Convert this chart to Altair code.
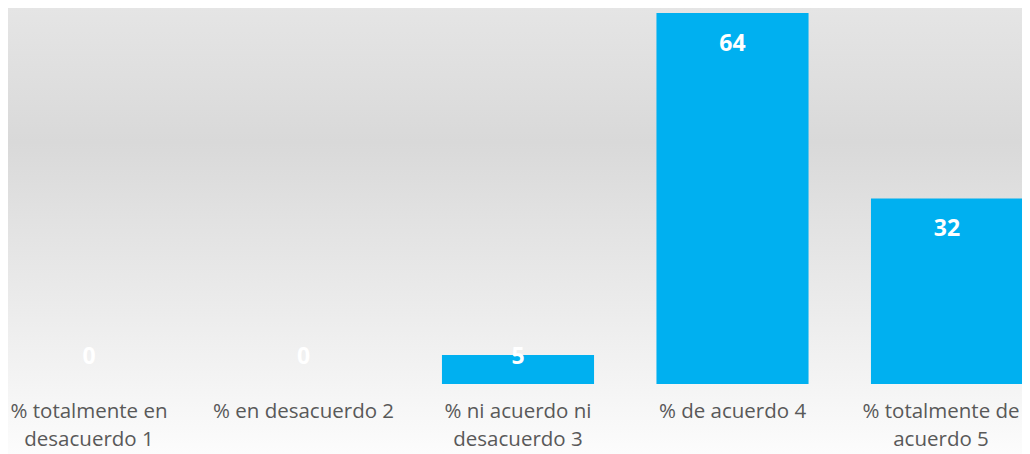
import altair as alt
import pandas as pd

categories = [
    "% totalmente en desacuerdo 1",
    "% en desacuerdo 2",
    "% ni acuerdo ni desacuerdo 3",
    "% de acuerdo 4",
    "% totalmente de acuerdo 5",
]
values = [0, 0, 5, 64, 32]
wrapped = {
    "% totalmente en desacuerdo 1": ["% totalmente en", "desacuerdo 1"],
    "% en desacuerdo 2": ["% en desacuerdo 2"],
    "% ni acuerdo ni desacuerdo 3": ["% ni acuerdo ni", "desacuerdo 3"],
    "% de acuerdo 4": ["% de acuerdo 4"],
    "% totalmente de acuerdo 5": ["% totalmente de", "acuerdo 5"],
}

df = pd.DataFrame({"cat": categories, "value": values})

# build label expression for wrapped axis labels
expr = "''"
for k, lines in reversed(list(wrapped.items())):
    arr = "[" + ",".join("'" + l + "'" for l in lines) + "]"
    expr = f"datum.label == '{k}' ? {arr} : ({expr})"

W, H = 1014, 376
FONT = "Open Sans"

xscale = alt.Scale(domain=categories, range=[-26.25, 1046.25],
                   paddingInner=0.291, paddingOuter=0.1455)
yscale = alt.Scale(domain=[0, 64.86], nice=False, zero=True)

bg = alt.Chart(pd.DataFrame({"a": [0]})).mark_rect(
    color=alt.Gradient(
        gradient="linear", x1=0, y1=0, x2=0, y2=1,
        stops=[
            alt.GradientStop(offset=0, color="#e5e5e5"),
            alt.GradientStop(offset=0.3, color="#d9d9d9"),
            alt.GradientStop(offset=0.72, color="#eeeeee"),
            alt.GradientStop(offset=1, color="#fcfcfc"),
        ],
    )
).encode(x=alt.value(0), x2=alt.value(W), y=alt.value(0), y2=alt.value(446))

base = alt.Chart(df)

bars = base.mark_bar(color="#00B0F0").encode(
    x=alt.X("cat:N", scale=xscale, sort=categories,
            axis=alt.Axis(title=None, labelAngle=0, domain=False, ticks=False,
                          grid=False, labelFont=FONT, labelFontSize=20.5,
                          labelColor="#595959", labelPadding=17,
                          labelLineHeight=28, labelExpr=expr,
                          labelLimit=400,
                          labelOffset={"condition": {
                              "test": f"datum.value === '{categories[-1]}'",
                              "value": -6}, "value": 0},
                          labelOverlap=False, labelBound=False,
                          labelFlush=False, zindex=2)),
    y=alt.Y("value:Q", scale=yscale, axis=None),
)

labels = base.transform_calculate(
    ly="max(datum.value, 10)"
).mark_text(color="white", font=FONT, fontWeight="bold", fontSize=23,
            baseline="middle", dy=31).encode(
    x=alt.X("cat:N", scale=xscale, sort=categories),
    y=alt.Y("ly:Q", scale=yscale),
    text=alt.Text("value:Q"),
)

chart = alt.layer(bg, bars, labels).properties(
    width=W, height=H,
    autosize=alt.AutoSizeParams(type="none"),
    padding={"left": 0, "top": 0, "right": 0, "bottom": 70},
).configure_view(stroke=None)

chart.save("out.html", embed_options={"renderer": "svg", "actions": False})
